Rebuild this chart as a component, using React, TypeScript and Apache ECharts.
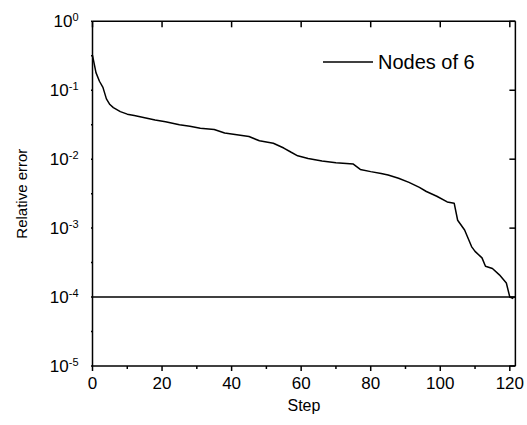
import React, { useEffect, useRef } from "react";
import * as echarts from "echarts";

const seriesName = "Nodes of 6";
const steps = [0, 1, 2, 3, 4, 5, 6, 8, 10, 12, 15, 18, 21, 25, 28, 31, 35, 38, 42, 45, 48, 52, 55, 57, 59, 62, 66, 70, 75, 77, 80, 83, 85, 88, 91, 94, 96, 99, 102, 104, 105, 107, 109, 110, 112, 113, 115, 117, 119, 120, 121];
const errors = [0.32, 0.18, 0.135, 0.11, 0.075, 0.062, 0.056, 0.049, 0.045, 0.043, 0.04, 0.037, 0.035, 0.0315, 0.03, 0.028, 0.027, 0.024, 0.0225, 0.0213, 0.0185, 0.017, 0.0145, 0.0127, 0.0112, 0.0102, 0.0094, 0.0089, 0.0085, 0.0071, 0.0066, 0.0062, 0.0059, 0.0053, 0.0046, 0.0039, 0.0034, 0.0029, 0.0024, 0.0023, 0.0013, 0.00094, 0.00054, 0.00046, 0.00037, 0.00028, 0.00026, 0.00021, 0.00016, 0.0001, 0.000095];
const threshold = 1e-4;
const xMin = 0;
const xMax = 121.6;
const xMajor = 20;
const xMajorTicks = [0, 20, 40, 60, 80, 100, 120];
const xMinorTicks = [10, 30, 50, 70, 90, 110];
const yMin = 1e-5;
const yMax = 1;
const yMajorTicks = [1e-5, 1e-4, 1e-3, 1e-2, 1e-1, 1];
const yMinorExponents = [-4.5, -3.5, -2.5, -1.5, -0.5];

const FONT = "Liberation Sans, Arial, sans-serif";

export default function App() {
  const ref = useRef<HTMLDivElement>(null);
  useEffect(() => {
    if (!ref.current) return;
    const chart = echarts.init(ref.current, null, { renderer: "svg" });
    const data = steps.map((s, i) => [s, errors[i]]);
    const xLabel = (v: number) => (Math.abs(v / xMajor - Math.round(v / xMajor)) < 1e-6 ? String(v) : "");
    const lineSeries = (name: string, d: any[]) => ({
      name,
      type: "line",
      data: d,
      symbol: "none",
      silent: true,
      clip: false,
      lineStyle: { color: "#000", width: 1.5 },
      itemStyle: { color: "#000" },
    });
    chart.setOption({
      animation: false,
      backgroundColor: "#fff",
      textStyle: { fontFamily: FONT, color: "#000" },
      grid: { left: 92.5, top: 21.3, right: 8.7, bottom: 59, containLabel: false },
      legend: {
        data: [seriesName],
        left: 318,
        top: 47,
        icon: "rect",
        itemWidth: 50,
        itemHeight: 1.5,
        itemStyle: { color: "#000" },
        textStyle: { fontSize: 20, color: "#000", fontFamily: FONT },
      },
      xAxis: {
        type: "value",
        position: "bottom",
        min: xMin,
        max: xMax,
        interval: xMajor,
        name: "Step",
        nameLocation: "middle",
        nameGap: 31,
        nameTextStyle: { fontSize: 16, color: "#000", fontFamily: FONT },
        axisLine: { show: false },
        axisTick: { show: false },
        axisLabel: { formatter: xLabel, showMaxLabel: false, fontSize: 17, color: "#000", margin: 9, fontFamily: FONT },
        splitLine: { show: false },
      },
      yAxis: {
        type: "log",
        logBase: 10,
        position: "left",
        min: yMin,
        max: yMax,
        name: "Relative error",
        nameLocation: "middle",
        nameGap: 64,
        nameTextStyle: { fontSize: 15, color: "#000", fontFamily: FONT },
        axisLine: { show: false },
        axisTick: { show: false },
        axisLabel: {
          margin: 14,
          formatter: (v: number) => `{b|10}{s|${Math.round(Math.log10(v))}}`,
          rich: {
            b: { fontSize: 17, lineHeight: 20, color: "#000", fontFamily: FONT },
            s: { fontSize: 11, lineHeight: 11, verticalAlign: "top", color: "#000", fontFamily: FONT },
          },
        },
        splitLine: { show: false },
      },
      series: [
        {
          name: seriesName,
          type: "line",
          data,
          symbol: "none",
          lineStyle: { color: "#000", width: 1.5 },
          itemStyle: { color: "#000" },
        },
        lineSeries("threshold", [[xMin, threshold], [xMax, threshold]]),
      ],
    });

    // Frame and tick marks, placed through the chart's own scales.
    const toPx = (p: number[]) => chart.convertToPixel({ gridIndex: 0 }, p) as number[];
    const toData = (p: number[]) => chart.convertFromPixel({ gridIndex: 0 }, p) as number[];
    const offset = (p: number[], dx: number, dy: number) => {
      const px = toPx(p);
      return toData([px[0] + dx, px[1] + dy]);
    };
    const extra: any[] = [
      lineSeries("frame-top", [[xMin, yMax], [xMax, yMax]]),
      lineSeries("frame-bottom", [[xMin, yMin], [xMax, yMin]]),
      lineSeries("frame-left", [[xMin, yMin], [xMin, yMax]]),
      lineSeries("frame-right", [[xMax, yMin], [xMax, yMax]]),
    ];
    xMajorTicks.forEach((v, i) => {
      extra.push(lineSeries("xb" + i, [[v, yMin], offset([v, yMin], 0, 5)]));
      extra.push(lineSeries("xt" + i, [[v, yMax], offset([v, yMax], 0, 6)]));
    });
    xMinorTicks.forEach((v, i) => {
      extra.push(lineSeries("xm" + i, [[v, yMin], offset([v, yMin], 0, 3)]));
    });
    yMajorTicks.forEach((v, i) => {
      extra.push(lineSeries("yl" + i, [[xMin, v], offset([xMin, v], -6, 0)]));
      extra.push(lineSeries("yr" + i, [[xMax, v], offset([xMax, v], -6, 0)]));
    });
    yMinorExponents.forEach((e, i) => {
      const v = Math.pow(10, e);
      extra.push(lineSeries("ym" + i, [[xMin, v], offset([xMin, v], -3, 0)]));
    });
    chart.setOption({ series: extra.map((s, i) => ({ ...s, id: "deco" + i })) });
    return () => chart.dispose();
  }, []);
  return <div ref={ref} style={{ width: 527, height: 425, position: "absolute", left: 0, top: 0 }} />;
}
